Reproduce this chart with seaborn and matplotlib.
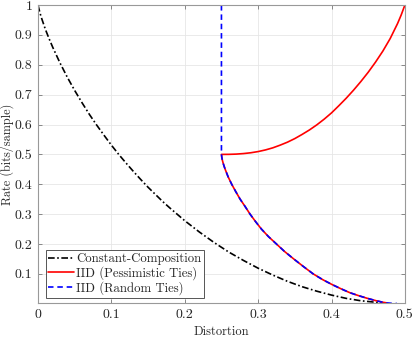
import matplotlib
matplotlib.use("Agg")
from matplotlib import pyplot as plt
import seaborn as sns
import pandas as pd

# constant-composition curve
cc_d = [0, 0.0025, 0.005, 0.01, 0.015, 0.02, 0.03, 0.04, 0.05, 0.06, 0.07, 0.08, 0.09, 0.1,
        0.11, 0.12, 0.13, 0.14, 0.15, 0.16, 0.17, 0.18, 0.19, 0.2, 0.22, 0.24, 0.26, 0.28,
        0.3, 0.32, 0.34, 0.36, 0.38, 0.4, 0.42, 0.44, 0.46, 0.47]
cc_r = [1.0, 0.975, 0.955, 0.919, 0.888, 0.859, 0.806, 0.758, 0.714, 0.673, 0.634, 0.598, 0.564, 0.531,
        0.5, 0.471, 0.443, 0.416, 0.39, 0.366, 0.342, 0.32, 0.299, 0.278, 0.24, 0.205, 0.173, 0.145,
        0.119, 0.096, 0.075, 0.057, 0.042, 0.029, 0.018, 0.01, 0.005, 0.003]

# IID upper branch (from (0.5,1) back to (0.25,0.5))
up_d = [0.5, 0.495, 0.49, 0.48, 0.47, 0.46, 0.45, 0.44, 0.43, 0.42, 0.41, 0.4, 0.39, 0.38,
        0.37, 0.36, 0.35, 0.34, 0.33, 0.32, 0.31, 0.3, 0.29, 0.28, 0.27, 0.26, 0.25]
up_r = [1.0, 0.967, 0.938, 0.888, 0.846, 0.809, 0.775, 0.744, 0.715, 0.688, 0.663, 0.639, 0.618, 0.599,
        0.582, 0.567, 0.553, 0.541, 0.531, 0.522, 0.515, 0.5095, 0.5055, 0.5028, 0.501, 0.5002, 0.5]

# IID lower branch
low_d = [0.25, 0.2505, 0.2513, 0.2524, 0.2537, 0.2551, 0.2567, 0.2591, 0.264, 0.2696, 0.2755, 0.2824,
         0.289, 0.2965, 0.3045, 0.314, 0.325, 0.336, 0.3485, 0.3615, 0.375, 0.3885, 0.401, 0.413,
         0.425, 0.437, 0.449, 0.461, 0.47, 0.475]
low_r = [0.5, 0.49, 0.48, 0.47, 0.46, 0.45, 0.44, 0.425, 0.4, 0.375, 0.35, 0.325,
         0.3, 0.275, 0.25, 0.225, 0.2, 0.175, 0.15, 0.125, 0.1, 0.08, 0.064, 0.05,
         0.037, 0.027, 0.018, 0.01, 0.005, 0.003]

# random ties: vertical piece then lower branch, a bit longer tail
rnd_d = [0.25, 0.25] + low_d[1:] + [0.482, 0.489]
rnd_r = [1.0, 0.5] + low_r[1:] + [0.0015, 0.001]

xticks = [0, 0.1, 0.2, 0.3, 0.4, 0.5]
yticks = [0.1, 0.2, 0.3, 0.4, 0.5, 0.6, 0.7, 0.8, 0.9, 1.0]

sns.set_style("whitegrid")
plt.rcParams['font.family'] = ['cmr10', 'DejaVu Serif']
plt.rcParams['axes.formatter.use_mathtext'] = True

fig = plt.figure(figsize=(4.15, 3.38), dpi=100)
ax = fig.add_axes([0.0916, 0.104, 0.884, 0.881])

cc = pd.DataFrame({'d': cc_d, 'r': cc_r})
pes = pd.DataFrame({'d': up_d + low_d[1:], 'r': up_r + low_r[1:]})
rnd = pd.DataFrame({'d': rnd_d, 'r': rnd_r})

sns.lineplot(data=cc, x='d', y='r', sort=False, estimator=None, ax=ax,
             color='black', lw=1.2, label='Constant-Composition')
sns.lineplot(data=pes, x='d', y='r', sort=False, estimator=None, ax=ax,
             color='red', lw=1.2, label='IID (Pessimistic Ties)')
sns.lineplot(data=rnd, x='d', y='r', sort=False, estimator=None, ax=ax,
             color='blue', lw=1.2, label='IID (Random Ties)')
ax.lines[0].set_dashes([4, 1.5, 1, 1.5])
ax.lines[2].set_dashes([3.3, 2.3])

ax.set_xlim(0, 0.5)
ax.set_ylim(0.003, 1)
ax.set_xticks(xticks)
ax.set_xticklabels(['0', '0.1', '0.2', '0.3', '0.4', '0.5'])
ax.set_yticks(yticks)
ax.set_yticklabels(['0.1', '0.2', '0.3', '0.4', '0.5', '0.6', '0.7', '0.8', '0.9', '1'])
ax.grid(True, color='#e6e6e6', lw=0.6)
ax.tick_params(direction='in', length=3, width=0.6, colors='#777777', labelcolor='#262626',
               labelsize=10, top=True, right=True, bottom=True, left=True, pad=4)
for s in ax.spines.values():
    s.set_color('#999999')
    s.set_linewidth(0.8)

ax.set_xlabel('Distortion', fontsize=9, color='#262626', labelpad=4)
ax.set_ylabel('Rate (bits/sample)', fontsize=8.8, color='#262626')
ax.yaxis.set_label_coords(-0.066, 0.5)

leg = ax.legend(loc='lower left', bbox_to_anchor=(0.021, 0.017), fontsize=9.2, frameon=True,
                fancybox=False, handlelength=2.0, handletextpad=0.2, borderpad=0.2,
                labelspacing=0.1, borderaxespad=0)
leg.get_frame().set_edgecolor('#555555')
leg.get_frame().set_linewidth(0.7)
leg.get_frame().set_alpha(1)

fig.savefig('out.png', dpi=100)
